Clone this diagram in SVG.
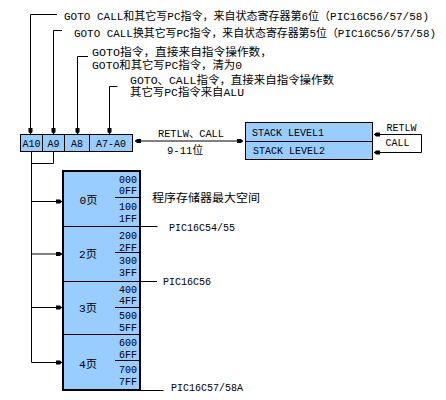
<svg xmlns="http://www.w3.org/2000/svg" width="446" height="400" viewBox="0 0 446 400">
<style>
.t{font-family:"Liberation Mono","Noto Sans CJK SC",monospace;font-size:11px;fill:#000}
.a{font-size:10px}
.box{fill:#99CCFF;stroke:#000;stroke-width:1}
.ln{fill:none;stroke:#000;stroke-width:1}
.arr{marker-end:url(#ah)}
</style>
<defs>
<marker id="ah" markerUnits="userSpaceOnUse" markerWidth="7" markerHeight="6" refX="6" refY="3" orient="auto-start-reverse">
<path d="M0,1 L4,1 L6,3 L4,5 L0,5 z" fill="#000"/>
</marker>
</defs>
<rect width="446" height="400" fill="#fff"/>

<g id="connectors">
<path class="ln arr" d="M57,14.5 H30.5 V134"/>
<path class="ln arr" d="M62,30.5 H53.5 V134"/>
<path class="ln arr" d="M88,56.5 H77.5 V134"/>
<path class="ln arr" d="M117.5,86.5 H109.5 V134"/>
<path class="ln" d="M135,141 H243" marker-start="url(#ah)" marker-end="url(#ah)"/>
<path class="ln" d="M374,134.5 H421.5 V152.5 H374" marker-start="url(#ah)" marker-end="url(#ah)"/>
<path class="ln" d="M53.5,152 V163.5 H31.5"/>
<path class="ln" d="M31.5,152 V362.5 H62"/>
<path class="ln arr" d="M31.5,201.5 H62"/>
<path class="ln arr" d="M31.5,254 H62"/>
<path class="ln arr" d="M31.5,307.5 H62"/>
<path class="ln arr" d="M61,362.5 H62"/>
<path class="ln" d="M140,226.5 H157.5"/>
<path class="ln" d="M140,281.5 H157"/>
<path class="ln" d="M140,390.5 H163.5"/>
</g>

<g id="notes">
<text class="t" x="64" y="20" textLength="365" lengthAdjust="spacingAndGlyphs">GOTO CALL和其它写PC指令，来自状态寄存器第6位（PIC16C56/57/58)</text>
<text class="t" x="74" y="37" textLength="362" lengthAdjust="spacingAndGlyphs">GOTO CALL换其它写PC指令，来自状态寄存器第5位（PIC16C56/57/58)</text>
<text class="t" x="92" y="56" textLength="180" lengthAdjust="spacingAndGlyphs">GOTO指令，直接来自指令操作数，</text>
<text class="t" x="92" y="68.5" textLength="150" lengthAdjust="spacingAndGlyphs">GOTO和其它写PC指令，清为0</text>
<text class="t" x="130" y="84" textLength="204" lengthAdjust="spacingAndGlyphs">GOTO、CALL指令，直接来自指令操作数</text>
<text class="t" x="130" y="96" textLength="114" lengthAdjust="spacingAndGlyphs">其它写PC指令来自ALU</text>
</g>

<g id="pc-register">
<rect class="box" x="20.5" y="134.5" width="22" height="17"/>
<rect class="box" x="42.5" y="134.5" width="22" height="17"/>
<rect class="box" x="64.5" y="134.5" width="25" height="17"/>
<rect class="box" x="89.5" y="134.5" width="43" height="17"/>
<text class="t" x="31.5" y="147" text-anchor="middle" textLength="18" lengthAdjust="spacingAndGlyphs">A10</text>
<text class="t" x="53.5" y="147" text-anchor="middle" textLength="12" lengthAdjust="spacingAndGlyphs">A9</text>
<text class="t" x="77" y="147" text-anchor="middle" textLength="12" lengthAdjust="spacingAndGlyphs">A8</text>
<text class="t" x="111" y="147" text-anchor="middle" textLength="30" lengthAdjust="spacingAndGlyphs">A7-A0</text>
</g>

<g id="link-label">
<text class="t" x="158" y="137" textLength="66" lengthAdjust="spacingAndGlyphs">RETLW、CALL</text>
<text class="t" x="167" y="154" textLength="36" lengthAdjust="spacingAndGlyphs">9-11位</text>
</g>

<g id="stack">
<rect class="box" x="245.5" y="122.5" width="127" height="19"/>
<rect class="box" x="245.5" y="141.5" width="127" height="18"/>
<text class="t" x="252" y="135.5" textLength="72" lengthAdjust="spacingAndGlyphs">STACK LEVEL1</text>
<text class="t" x="253" y="154" textLength="72" lengthAdjust="spacingAndGlyphs">STACK LEVEL2</text>
<text class="t" x="386.5" y="131" textLength="30" lengthAdjust="spacingAndGlyphs">RETLW</text>
<text class="t" x="385.5" y="146" textLength="24" lengthAdjust="spacingAndGlyphs">CALL</text>
</g>

<g id="program-memory">
<rect x="63" y="171" width="77" height="219" fill="#99CCFF" stroke="#000" stroke-width="2"/>
<path class="ln" d="M63,226.5 H140 M63,281.5 H140 M63,334.5 H140"/>
<path class="ln" d="M115,197.5 H139 M115,252.5 H139 M115,307.5 H139 M115,360.5 H139"/>
<g class="pages">
<text class="t" x="88.5" y="204" text-anchor="middle" textLength="18" lengthAdjust="spacingAndGlyphs">0页</text>
<text class="t" x="88" y="257.5" text-anchor="middle" textLength="18" lengthAdjust="spacingAndGlyphs">2页</text>
<text class="t" x="88" y="311.5" text-anchor="middle" textLength="18" lengthAdjust="spacingAndGlyphs">3页</text>
<text class="t" x="88" y="367.5" text-anchor="middle" textLength="18" lengthAdjust="spacingAndGlyphs">4页</text>
</g>
<g class="addr">
<text class="t a" x="137" y="182.5" text-anchor="end" textLength="18" lengthAdjust="spacingAndGlyphs">000</text>
<text class="t a" x="137" y="194" text-anchor="end" textLength="18" lengthAdjust="spacingAndGlyphs">0FF</text>
<text class="t a" x="137" y="210" text-anchor="end" textLength="18" lengthAdjust="spacingAndGlyphs">100</text>
<text class="t a" x="137" y="221.5" text-anchor="end" textLength="18" lengthAdjust="spacingAndGlyphs">1FF</text>
<text class="t a" x="137" y="239" text-anchor="end" textLength="18" lengthAdjust="spacingAndGlyphs">200</text>
<text class="t a" x="137" y="250.5" text-anchor="end" textLength="18" lengthAdjust="spacingAndGlyphs">2FF</text>
<text class="t a" x="137" y="264" text-anchor="end" textLength="18" lengthAdjust="spacingAndGlyphs">300</text>
<text class="t a" x="137" y="275.5" text-anchor="end" textLength="18" lengthAdjust="spacingAndGlyphs">3FF</text>
<text class="t a" x="137" y="292.5" text-anchor="end" textLength="18" lengthAdjust="spacingAndGlyphs">400</text>
<text class="t a" x="137" y="304" text-anchor="end" textLength="18" lengthAdjust="spacingAndGlyphs">4FF</text>
<text class="t a" x="137" y="319" text-anchor="end" textLength="18" lengthAdjust="spacingAndGlyphs">500</text>
<text class="t a" x="137" y="330.5" text-anchor="end" textLength="18" lengthAdjust="spacingAndGlyphs">5FF</text>
<text class="t a" x="137" y="346" text-anchor="end" textLength="18" lengthAdjust="spacingAndGlyphs">600</text>
<text class="t a" x="137" y="357.5" text-anchor="end" textLength="18" lengthAdjust="spacingAndGlyphs">6FF</text>
<text class="t a" x="137" y="373" text-anchor="end" textLength="18" lengthAdjust="spacingAndGlyphs">700</text>
<text class="t a" x="137" y="384.5" text-anchor="end" textLength="18" lengthAdjust="spacingAndGlyphs">7FF</text>
</g>
</g>

<g id="memory-labels">
<text class="t" x="152" y="201.5" textLength="108" lengthAdjust="spacingAndGlyphs">程序存储器最大空间</text>
<text class="t" x="169" y="230.5" textLength="66" lengthAdjust="spacingAndGlyphs">PIC16C54/55</text>
<text class="t" x="163" y="284.5" textLength="48" lengthAdjust="spacingAndGlyphs">PIC16C56</text>
<text class="t" x="171" y="391" textLength="72" lengthAdjust="spacingAndGlyphs">PIC16C57/58A</text>
</g>
</svg>
